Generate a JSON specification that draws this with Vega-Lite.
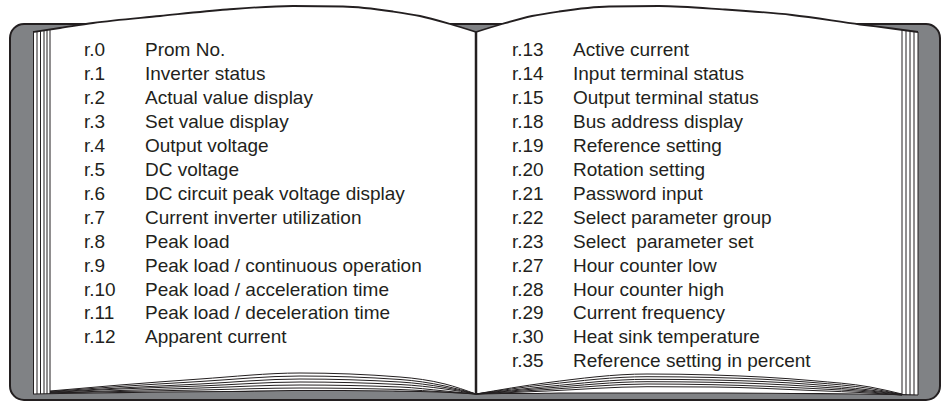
{
  "$schema": "https://vega.github.io/schema/vega-lite/v6.json",
  "width": 945,
  "height": 402,
  "autosize": {"type": "none"},
  "padding": 0,
  "background": "white",
  "config": {
    "view": {"stroke": null},
    "axis": {"disable": true}
  },
  "datasets": {
    "cover": [{"x1": 10, "x2": 940, "y1": 24, "y2": 400}],
    "pages": [
      {"page": "left", "x": 33, "top": 32, "bottom": 394},
      {"page": "left", "x": 60, "top": 28, "bottom": 393.5},
      {"page": "left", "x": 93, "top": 23, "bottom": 393},
      {"page": "left", "x": 160, "top": 16, "bottom": 392},
      {"page": "left", "x": 227, "top": 9.5, "bottom": 391.5},
      {"page": "left", "x": 293, "top": 6, "bottom": 390.5},
      {"page": "left", "x": 343, "top": 6.5, "bottom": 390.5},
      {"page": "left", "x": 393, "top": 11.5, "bottom": 391},
      {"page": "left", "x": 420, "top": 16, "bottom": 391.5},
      {"page": "left", "x": 450, "top": 24, "bottom": 392.5},
      {"page": "left", "x": 476, "top": 32, "bottom": 394},
      {"page": "right", "x": 476, "top": 32, "bottom": 394},
      {"page": "right", "x": 502, "top": 24, "bottom": 393.5},
      {"page": "right", "x": 532, "top": 16, "bottom": 393.5},
      {"page": "right", "x": 559, "top": 11.5, "bottom": 393},
      {"page": "right", "x": 609, "top": 6.5, "bottom": 393},
      {"page": "right", "x": 659, "top": 6, "bottom": 393},
      {"page": "right", "x": 725, "top": 9.5, "bottom": 393},
      {"page": "right", "x": 792, "top": 15, "bottom": 393.5},
      {"page": "right", "x": 860, "top": 24.5, "bottom": 394},
      {"page": "right", "x": 892, "top": 28.5, "bottom": 394.5},
      {"page": "right", "x": 918, "top": 32, "bottom": 395}
    ],
    "fan": [
      {"id": "L0", "x": 50, "y": 391}, {"id": "L0", "x": 120, "y": 385}, {"id": "L0", "x": 200, "y": 379}, {"id": "L0", "x": 300, "y": 373}, {"id": "L0", "x": 400, "y": 377}, {"id": "L0", "x": 445, "y": 384}, {"id": "L0", "x": 476, "y": 394},
      {"id": "L1", "x": 50, "y": 391.5}, {"id": "L1", "x": 120, "y": 386.5}, {"id": "L1", "x": 200, "y": 381.5}, {"id": "L1", "x": 300, "y": 376}, {"id": "L1", "x": 400, "y": 379.5}, {"id": "L1", "x": 445, "y": 386}, {"id": "L1", "x": 476, "y": 394},
      {"id": "L2", "x": 50, "y": 392}, {"id": "L2", "x": 120, "y": 388}, {"id": "L2", "x": 200, "y": 384}, {"id": "L2", "x": 300, "y": 379}, {"id": "L2", "x": 400, "y": 382}, {"id": "L2", "x": 445, "y": 387.5}, {"id": "L2", "x": 476, "y": 394},
      {"id": "L3", "x": 50, "y": 392.5}, {"id": "L3", "x": 120, "y": 389}, {"id": "L3", "x": 200, "y": 386}, {"id": "L3", "x": 300, "y": 382}, {"id": "L3", "x": 400, "y": 384.5}, {"id": "L3", "x": 445, "y": 389}, {"id": "L3", "x": 476, "y": 394},
      {"id": "L4", "x": 50, "y": 393}, {"id": "L4", "x": 120, "y": 390.5}, {"id": "L4", "x": 200, "y": 388}, {"id": "L4", "x": 300, "y": 385}, {"id": "L4", "x": 400, "y": 387}, {"id": "L4", "x": 445, "y": 391}, {"id": "L4", "x": 476, "y": 394},
      {"id": "L5", "x": 50, "y": 393}, {"id": "L5", "x": 120, "y": 391.5}, {"id": "L5", "x": 200, "y": 390}, {"id": "L5", "x": 300, "y": 388}, {"id": "L5", "x": 400, "y": 389.5}, {"id": "L5", "x": 445, "y": 392}, {"id": "L5", "x": 476, "y": 394},
      {"id": "R0", "x": 476, "y": 394}, {"id": "R0", "x": 547, "y": 382.7}, {"id": "R0", "x": 647, "y": 374}, {"id": "R0", "x": 713, "y": 375}, {"id": "R0", "x": 813, "y": 380.7}, {"id": "R0", "x": 870, "y": 387}, {"id": "R0", "x": 902, "y": 394},
      {"id": "R1", "x": 476, "y": 394}, {"id": "R1", "x": 547, "y": 384.5}, {"id": "R1", "x": 647, "y": 376.7}, {"id": "R1", "x": 713, "y": 377.5}, {"id": "R1", "x": 813, "y": 382.5}, {"id": "R1", "x": 870, "y": 388.5}, {"id": "R1", "x": 902, "y": 394.5},
      {"id": "R2", "x": 476, "y": 394}, {"id": "R2", "x": 547, "y": 386.5}, {"id": "R2", "x": 647, "y": 379.3}, {"id": "R2", "x": 713, "y": 380}, {"id": "R2", "x": 813, "y": 384.5}, {"id": "R2", "x": 870, "y": 390}, {"id": "R2", "x": 902, "y": 394.5},
      {"id": "R3", "x": 476, "y": 394}, {"id": "R3", "x": 547, "y": 388}, {"id": "R3", "x": 647, "y": 381.7}, {"id": "R3", "x": 713, "y": 382.3}, {"id": "R3", "x": 813, "y": 386.5}, {"id": "R3", "x": 870, "y": 391}, {"id": "R3", "x": 902, "y": 394.5},
      {"id": "R4", "x": 476, "y": 394}, {"id": "R4", "x": 547, "y": 389.5}, {"id": "R4", "x": 647, "y": 384}, {"id": "R4", "x": 713, "y": 384.7}, {"id": "R4", "x": 813, "y": 388.5}, {"id": "R4", "x": 870, "y": 392}, {"id": "R4", "x": 902, "y": 395},
      {"id": "R5", "x": 476, "y": 394}, {"id": "R5", "x": 547, "y": 391}, {"id": "R5", "x": 647, "y": 386.7}, {"id": "R5", "x": 713, "y": 387}, {"id": "R5", "x": 813, "y": 390.5}, {"id": "R5", "x": 870, "y": 393}, {"id": "R5", "x": 902, "y": 395}
    ],
    "edges": [
      {"x": 33.5, "y1": 32, "y2": 394},
      {"x": 37, "y1": 31.5, "y2": 394},
      {"x": 40.5, "y1": 31, "y2": 394},
      {"x": 44, "y1": 30.5, "y2": 394},
      {"x": 47, "y1": 30, "y2": 394},
      {"x": 50, "y1": 30, "y2": 394},
      {"x": 902, "y1": 30, "y2": 395},
      {"x": 906, "y1": 30.5, "y2": 395},
      {"x": 910, "y1": 31, "y2": 395},
      {"x": 914, "y1": 31.5, "y2": 395},
      {"x": 918, "y1": 32, "y2": 395}
    ],
    "spine": [{"x": 476, "y1": 32, "y2": 394}],
    "rows": [
      {"page": 0, "row": 0, "code": "r.0", "label": "Prom No."},
      {"page": 0, "row": 1, "code": "r.1", "label": "Inverter status"},
      {"page": 0, "row": 2, "code": "r.2", "label": "Actual value display"},
      {"page": 0, "row": 3, "code": "r.3", "label": "Set value display"},
      {"page": 0, "row": 4, "code": "r.4", "label": "Output voltage"},
      {"page": 0, "row": 5, "code": "r.5", "label": "DC voltage"},
      {"page": 0, "row": 6, "code": "r.6", "label": "DC circuit peak voltage display"},
      {"page": 0, "row": 7, "code": "r.7", "label": "Current inverter utilization"},
      {"page": 0, "row": 8, "code": "r.8", "label": "Peak load"},
      {"page": 0, "row": 9, "code": "r.9", "label": "Peak load / continuous operation"},
      {"page": 0, "row": 10, "code": "r.10", "label": "Peak load / acceleration time"},
      {"page": 0, "row": 11, "code": "r.11", "label": "Peak load / deceleration time"},
      {"page": 0, "row": 12, "code": "r.12", "label": "Apparent current"},
      {"page": 1, "row": 0, "code": "r.13", "label": "Active current"},
      {"page": 1, "row": 1, "code": "r.14", "label": "Input terminal status"},
      {"page": 1, "row": 2, "code": "r.15", "label": "Output terminal status"},
      {"page": 1, "row": 3, "code": "r.18", "label": "Bus address display"},
      {"page": 1, "row": 4, "code": "r.19", "label": "Reference setting"},
      {"page": 1, "row": 5, "code": "r.20", "label": "Rotation setting"},
      {"page": 1, "row": 6, "code": "r.21", "label": "Password input"},
      {"page": 1, "row": 7, "code": "r.22", "label": "Select parameter group"},
      {"page": 1, "row": 8, "code": "r.23", "label": "Select\u00a0 parameter set"},
      {"page": 1, "row": 9, "code": "r.27", "label": "Hour counter low"},
      {"page": 1, "row": 10, "code": "r.28", "label": "Hour counter high"},
      {"page": 1, "row": 11, "code": "r.29", "label": "Current frequency"},
      {"page": 1, "row": 12, "code": "r.30", "label": "Heat sink temperature"},
      {"page": 1, "row": 13, "code": "r.35", "label": "Reference setting in percent"}
    ]
  },
  "layer": [
    {
      "layer": [
        {
          "data": {"name": "cover"},
          "mark": {"type": "rect", "fill": "#808285", "stroke": "#231f20", "strokeWidth": 2, "cornerRadius": 14},
          "encoding": {
            "x": {"field": "x1", "type": "quantitative", "scale": {"domain": [0, 945], "nice": false, "zero": false}},
            "x2": {"field": "x2"},
            "y": {"field": "y1", "type": "quantitative", "scale": {"domain": [0, 402], "nice": false, "zero": false, "reverse": true}},
            "y2": {"field": "y2"}
          }
        },
        {
          "data": {"name": "pages"},
          "mark": {"type": "area", "fill": "white", "interpolate": "monotone", "strokeWidth": 0},
          "encoding": {
            "x": {"field": "x", "type": "quantitative"},
            "y": {"field": "top", "type": "quantitative", "stack": null},
            "y2": {"field": "bottom"},
            "detail": {"field": "page"}
          }
        },
        {
          "data": {"name": "pages"},
          "mark": {"type": "line", "stroke": "#231f20", "strokeWidth": 1.8, "interpolate": "monotone"},
          "encoding": {
            "x": {"field": "x", "type": "quantitative"},
            "y": {"field": "top", "type": "quantitative"},
            "detail": {"field": "page"}
          }
        },
        {
          "data": {"name": "pages"},
          "mark": {"type": "line", "stroke": "#231f20", "strokeWidth": 1.2, "interpolate": "monotone"},
          "encoding": {
            "x": {"field": "x", "type": "quantitative"},
            "y": {"field": "bottom", "type": "quantitative"},
            "detail": {"field": "page"}
          }
        },
        {
          "data": {"name": "fan"},
          "mark": {"type": "line", "stroke": "#231f20", "strokeWidth": 1, "interpolate": "monotone"},
          "encoding": {
            "x": {"field": "x", "type": "quantitative"},
            "y": {"field": "y", "type": "quantitative"},
            "detail": {"field": "id"}
          }
        },
        {
          "data": {"name": "edges"},
          "mark": {"type": "rule", "stroke": "#231f20", "strokeWidth": 1},
          "encoding": {
            "x": {"field": "x", "type": "quantitative"},
            "y": {"field": "y1", "type": "quantitative"},
            "y2": {"field": "y2"}
          }
        },
        {
          "data": {"name": "spine"},
          "mark": {"type": "rule", "stroke": "#231f20", "strokeWidth": 2.5},
          "encoding": {
            "x": {"field": "x", "type": "quantitative"},
            "y": {"field": "y1", "type": "quantitative"},
            "y2": {"field": "y2"}
          }
        }
      ]
    },
    {
      "data": {"name": "rows"},
      "encoding": {
        "x": {"field": "page", "type": "quantitative", "scale": {"domain": [-0.196262, 2.011682], "nice": false, "zero": false}},
        "y": {"field": "row", "type": "quantitative", "scale": {"domain": [-2.364, 14.456], "nice": false, "zero": false, "reverse": true}}
      },
      "layer": [
        {
          "mark": {"type": "text", "align": "left", "baseline": "alphabetic", "font": "Liberation Sans", "fontSize": 19, "fill": "#231f20"},
          "encoding": {"text": {"field": "code"}}
        },
        {
          "mark": {"type": "text", "align": "left", "baseline": "alphabetic", "font": "Liberation Sans", "fontSize": 19, "fill": "#231f20", "dx": 61},
          "encoding": {"text": {"field": "label"}}
        }
      ]
    }
  ],
  "resolve": {"scale": {"x": "independent", "y": "independent"}}
}
